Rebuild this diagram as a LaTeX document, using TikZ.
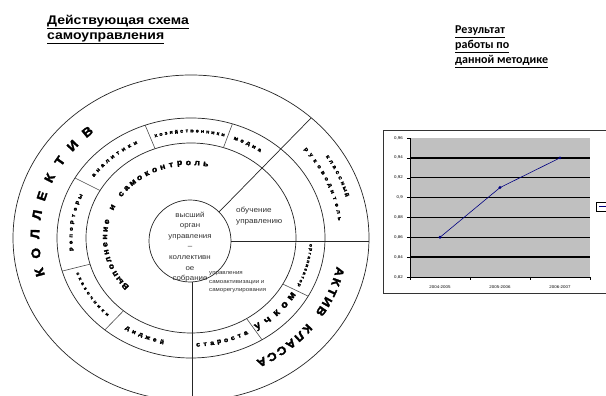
\documentclass[tikz,border=0pt]{standalone}
\usepackage{fontspec}
\setmainfont[FakeStretch=1.1]{Liberation Sans}
\newfontfamily\headfont[FakeStretch=1.12]{Liberation Sans}
\newfontfamily\heavyfont[FakeBold=2.5, FakeStretch=1.1]{Liberation Sans Bold}
\newfontfamily\notefont{Carlito}
\usetikzlibrary{calc}

\definecolor{plotgray}{RGB}{192,192,192}
\definecolor{seriesblue}{RGB}{0,0,128}

\tikzset{
  ring/.style={draw=black!85, line width=0.7pt},
  divider/.style={draw=black!70, line width=0.6pt},
  letter/.style={inner sep=0pt, font=\heavyfont\fontsize{#1}{#1}\selectfont},
  gridline/.style={line width=1.3pt},
  plaintext/.style={inner sep=0pt, align=#1, text=black!80},
}

% letters one by one along an ellipse: a, b, first angle, step, turn, size, letters
\newcommand\arcletters[7]{%
  \foreach \ch [count=\i] in {#7} {
    \pgfmathsetmacro\ang{#3+(\i-1)*(#4)}
    \pgfmathsetmacro\nrm{atan2(#1*sin(\ang),#2*cos(\ang))}
    \node[letter=#6, rotate=\nrm+#5] at (\ang:#1 and #2) {\ch};
  }}

\begin{document}
\begin{tikzpicture}[x=1pt, y=1pt]
  \useasboundingbox (0,0) rectangle (606,396);
  \clip (0,0) rectangle (606,396);
  \fill[white] (0,0) rectangle (606,396);

  % titles
  \node[anchor=north west, align=left, inner sep=0pt,
        font=\headfont\bfseries\fontsize{12.5}{15}\selectfont] (schemetitle) at (47,381)
        {\underline{Действующая схема}\\\underline{самоуправления}};
  \node[anchor=north west, align=left, inner sep=0pt,
        font=\notefont\bfseries\fontsize{12}{15}\selectfont] (resulttitle) at (455,370)
        {\underline{Результат}\\\underline{работы по}\\\underline{данной методике}};

  % the scheme
  \begin{scope}[shift={(191,158)}]
    \draw[ring] (0,0) ellipse [x radius=178, y radius=163];
    \draw[ring] (0,0) ellipse [x radius=134, y radius=120];
    \draw[ring] (0,0) ellipse [x radius=105, y radius=95];
    \node[draw=black!85, line width=0.7pt, circle, minimum size=82pt, inner sep=0pt] (centre) at (-1,-3) {};

    \draw[ring] (centre.east) -- (178,-3);
    \draw[ring] ([xshift=2pt]centre.south) -- ++(0,-130);
    \draw[ring] (centre.45) -- (47.5:178 and 163);
    \foreach \t in {196,150,110,72,-29,-58,230}
      \draw[divider] (\t:105 and 95) -- (\t:134 and 120);

    % outer band
    \arcletters{156}{142}{194}{-7.8}{-90}{12.5}{К,О,Л,Л,Е,К,Т,И,В}
    \arcletters{153}{140}{-14}{-4.4}{-90}{11.5}{А,К,Т,И,В,{},К,Л,А,С,С,А}
    \arcletters{163}{149}{33}{-2.3}{-90}{5.5}{к,л,а,с,с,н,ы,й}
    \arcletters{150}{137}{40}{-2.9}{-90}{5.5}{р,у,к,о,в,о,д,и,т,е,л,ь}

    % middle band
    \arcletters{120}{107}{186}{-3.6}{-90}{5.5}{р,е,п,о,р,т,е,р,ы}
    \arcletters{120}{107}{144}{-3.3}{-90}{5.5}{а,н,а,л,и,т,и,к,и}
    \arcletters{120}{107}{107}{-2.5}{-90}{5}{х,о,з,я,й,с,т,в,е,н,н,и,к,и}
    \arcletters{120}{107}{68}{-3.2}{-90}{5.5}{м,е,д,и,а}
    \arcletters{120}{107}{-4}{-2.2}{-90}{4.5}{о,р,г,а,н,и,з,а,т,о,р}
    \arcletters{120}{107}{-56}{5.75}{90}{10}{у,ч,к,о,м}
    \arcletters{120}{107}{-86.6}{3.4}{90}{6.5}{с,т,а,р,о,с,т,а}
    \arcletters{120}{107}{238}{3.6}{90}{6}{д,и,д,ж,е,й}
    \arcletters{120}{107}{199.5}{2.9}{90}{4.6}{с,к,а,з,о,ч,н,и,к,и}

    % inner zone
    \arcletters{86}{75}{220}{-5.83}{-90}{8}{В,ы,п,о,л,н,е,н,и,е,{},и,{},с,а,м,о,к,о,н,т,р,о,л,ь}
  \end{scope}

  \node[plaintext=center, font=\fontsize{7.2}{10.6}\selectfont] (centretext) at (190,149)
        {высший\\орган\\управления\\–\\коллективн\\ое\\собрание};
  \node[plaintext=left, anchor=north west, font=\fontsize{7.4}{11}\selectfont] (learning) at (236,189)
        {обучение\\управлению};
  \node[plaintext=left, anchor=north west, font=\fontsize{5.6}{8.8}\selectfont] (selfrule) at (209,125)
        {управления\\самоактивизации и\\саморегулирования};

  % chart
  \draw[black!80] (383,103) rectangle (615,266);
  \fill[plotgray] (410,119) rectangle (590,258);
  \foreach \v in {1,...,6}
    \draw[gridline] (410,119+\v*19.857) -- (590,119+\v*19.857);
  \draw (410,119) -- (410,258);
  \draw (410,119) -- (590,119);
  \foreach \lab [count=\v from 0] in {{0,82},{0,84},{0,86},{0,88},{0,9},{0,92},{0,94},{0,96}} {
    \draw (407,119+\v*19.857) -- (410,119+\v*19.857);
    \node[anchor=east, inner sep=0pt, font=\fontsize{4}{4}\selectfont] at (403,119+\v*19.857) {\lab};
  }
  \foreach \x in {410,470,530,590}
    \draw (\x,119) -- (\x,116);
  \foreach \yr [count=\k] in {2004-2005,2005-2006,2006-2007}
    \node[inner sep=0pt, font=\fontsize{4}{4}\selectfont] at (380+\k*60,109) {\yr};

  \coordinate (y2005) at (440,158.7);
  \coordinate (y2006) at (500,208.4);
  \coordinate (y2007) at (560,238.1);
  \draw[seriesblue, line width=0.6pt] (y2005) -- (y2006) -- (y2007);
  \foreach \p in {y2005,y2006,y2007}
    \fill[seriesblue] (\p) +(-1.6,0) -- +(0,1.6) -- +(1.6,0) -- +(0,-1.6) -- cycle;

  % legend, cut by the edge
  \draw (596,185) rectangle (615,194);
  \draw[seriesblue, line width=0.8pt] (599,189.5) -- (607,189.5);
\end{tikzpicture}
\end{document}
